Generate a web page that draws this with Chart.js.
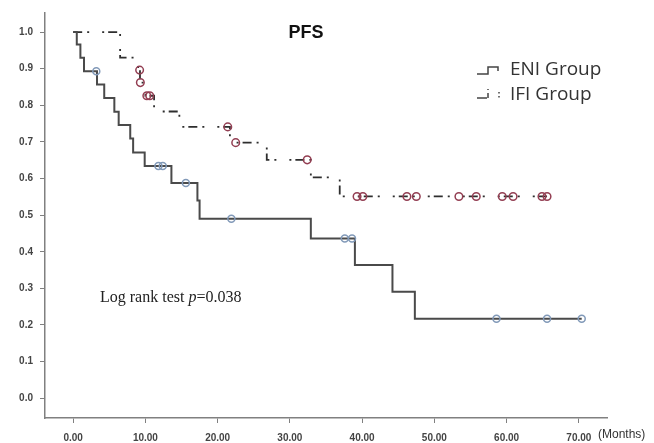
<!DOCTYPE html>
<html>
<head>
<meta charset="utf-8">
<title>PFS</title>
<script src="https://cdn.jsdelivr.net/npm/chart.js@4.4.1/dist/chart.umd.min.js"></script>
<style>
    html, body { margin: 0; padding: 0; background: #fff; overflow: hidden; }
    #wrap { width: 654px; height: 443px; position: relative; }
    canvas { display: block; }
</style>
</head>
<body>
<div id="wrap"><canvas id="pfsChart" width="654" height="443"></canvas></div>
<script>
// Kaplan-Meier PFS data (months, survival after the step)
const eniTimes = [0, 0.5, 1.0, 1.5, 3.3, 4.3, 5.7, 6.3, 7.9, 8.3, 9.9, 13.6, 17.2, 17.5, 32.9, 39.0, 44.2, 47.3];
const eniLevels = [1.0, 0.966, 0.93, 0.893, 0.857, 0.82, 0.782, 0.746, 0.709, 0.671, 0.634, 0.588, 0.54, 0.49, 0.436, 0.364, 0.291, 0.217];
const eniCensored = [3.2, 11.8, 12.4, 15.6, 21.9, 37.6, 38.6, 58.6, 65.6, 70.4];

const ifiTimes = [0, 6.5, 9.0, 9.25, 10.0, 11.2, 14.7, 21.7, 26.8, 32.9, 36.9];
const ifiLevels = [1.0, 0.93, 0.896, 0.862, 0.826, 0.783, 0.741, 0.698, 0.651, 0.603, 0.551];
const ifiCensored = [9.2, 9.3, 10.2, 10.6, 21.4, 22.5, 32.4, 39.3, 40.1, 46.2, 47.5, 53.4, 55.8, 59.4, 60.9, 64.9, 65.6];

const xTicks = [0, 10, 20, 30, 40, 50, 60, 70];
const yTicks = [0, 0.1, 0.2, 0.3, 0.4, 0.5, 0.6, 0.7, 0.8, 0.9, 1.0];

// value of the step curve at time t
function levelAt(times, levels, t) {
    let v = levels[0];
    for (let i = 0; i < times.length; i++) {
        if (times[i] <= t) v = levels[i];
    }
    return v;
}

function stepPoints(times, levels, censored) {
    const pts = times.map((t, i) => ({ x: t, y: levels[i] }));
    const last = Math.max(...censored);
    pts.push({ x: last, y: levelAt(times, levels, last) });
    return pts;
}

function censorPoints(times, levels, censored) {
    return censored.map(t => ({ x: t, y: levelAt(times, levels, t) }));
}

const AXIS_COLOR = '#808080';
const TICK_FONT = { family: 'Arial, "Liberation Sans", sans-serif', size: 10, weight: 'bold' };

// title, legend, p value and axis unit
const annotations = {
    id: 'annotations',
    afterDraw(chart) {
        const ctx = chart.ctx;
        ctx.save();

        ctx.fillStyle = '#111';
        ctx.font = 'bold 18px Arial, "Liberation Sans", sans-serif';
        ctx.textAlign = 'center';
        ctx.textBaseline = 'middle';
        ctx.fillText('PFS', 306, 33);

        // legend
        ctx.textAlign = 'left';
        ctx.fillStyle = '#333';
        ctx.font = '19px "Open Sans", "DejaVu Sans", sans-serif';
        ctx.fillText('ENI Group', 510, 70);
        ctx.fillText('IFI Group', 510, 95);

        ctx.strokeStyle = '#444';
        ctx.lineWidth = 1.5;
        ctx.beginPath();
        ctx.moveTo(477, 74); ctx.lineTo(488, 74); ctx.lineTo(488, 67);
        ctx.lineTo(498, 67); ctx.lineTo(498, 71);
        ctx.stroke();
        ctx.beginPath();
        ctx.moveTo(477, 98); ctx.lineTo(487, 98);
        ctx.moveTo(488, 98); ctx.lineTo(488, 93);
        ctx.moveTo(488, 90); ctx.lineTo(488, 89);
        ctx.moveTo(499, 92); ctx.lineTo(499, 93.5);
        ctx.moveTo(499, 96); ctx.lineTo(499, 97.5);
        ctx.stroke();

        // log rank text
        ctx.fillStyle = '#222';
        ctx.textBaseline = 'alphabetic';
        let x = 100;
        const parts = [['Log rank test ', ''], ['p', 'italic '], ['=0.038', '']];
        parts.forEach(([txt, style]) => {
            ctx.font = style + '16px "Liberation Serif", "DejaVu Serif", serif';
            ctx.fillText(txt, x, 302);
            x += ctx.measureText(txt).width;
        });

        ctx.fillStyle = '#333';
        ctx.font = '12px Arial, "Liberation Sans", sans-serif';
        ctx.textBaseline = 'middle';
        ctx.fillText('(Months)', 598, 435);
        ctx.restore();
    }
};

const ctx = document.getElementById('pfsChart').getContext('2d');
new Chart(ctx, {
    type: 'line',
    data: {
        datasets: [
            {
                label: 'ENI censored',
                type: 'scatter',
                data: censorPoints(eniTimes, eniLevels, eniCensored),
                pointStyle: 'circle',
                pointRadius: 3.5,
                borderColor: '#8199b8',
                backgroundColor: 'rgba(255,255,255,0)',
                borderWidth: 1.5,
                order: 0
            },
            {
                label: 'IFI censored',
                type: 'scatter',
                data: censorPoints(ifiTimes, ifiLevels, ifiCensored),
                pointStyle: 'circle',
                pointRadius: 3.8,
                borderColor: '#933e52',
                backgroundColor: 'rgba(255,255,255,0)',
                borderWidth: 1.5,
                order: 0
            },
            {
                label: 'ENI Group',
                data: stepPoints(eniTimes, eniLevels, eniCensored),
                stepped: 'before',
                borderColor: '#4a4a4a',
                borderWidth: 2,
                pointRadius: 0,
                fill: false,
                order: 1
            },
            {
                label: 'IFI Group',
                data: stepPoints(ifiTimes, ifiLevels, ifiCensored),
                stepped: 'before',
                borderColor: '#2e2e2e',
                borderWidth: 1.8,
                borderDash: [9, 5, 2, 13, 2, 4],
                pointRadius: 0,
                fill: false,
                order: 1
            }
        ]
    },
    options: {
        responsive: false,
        animation: false,
        layout: { padding: { top: 12, right: 47, bottom: 0, left: 0 } },
        plugins: {
            legend: { display: false },
            tooltip: { enabled: false }
        },
        scales: {
            x: {
                type: 'linear',
                min: -3.9,
                max: 73.9,
                afterFit: s => { s.height = 25; },
                afterBuildTicks: s => { s.ticks = xTicks.map(v => ({ value: v })); },
                ticks: {
                    color: '#444',
                    font: TICK_FONT,
                    padding: 9,
                    maxRotation: 0,
                    callback: v => v.toFixed(2)
                },
                grid: { drawOnChartArea: false, drawTicks: true, tickLength: 5, color: AXIS_COLOR },
                border: { display: true, color: AXIS_COLOR, width: 1.5 }
            },
            y: {
                type: 'linear',
                min: -0.054,
                max: 1.052,
                afterFit: s => { s.width = 45; },
                afterBuildTicks: s => { s.ticks = yTicks.map(v => ({ value: v })); },
                ticks: {
                    color: '#444',
                    font: TICK_FONT,
                    padding: 7,
                    callback: v => v.toFixed(1)
                },
                grid: { drawOnChartArea: false, drawTicks: true, tickLength: 5, color: AXIS_COLOR },
                border: { display: true, color: AXIS_COLOR, width: 1.5 }
            }
        }
    },
    plugins: [annotations]
});
</script>
</body>
</html>
